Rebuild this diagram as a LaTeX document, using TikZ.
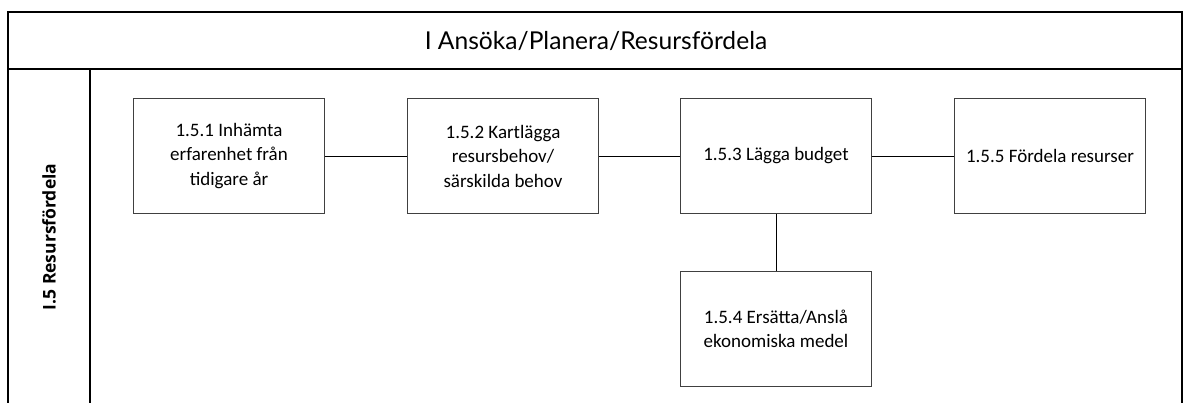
\documentclass[tikz,border=0pt]{standalone}
\usepackage{fontspec}
\setmainfont{Carlito}
\newfontfamily\gillfont{Lato}
\newfontfamily\lanefont{Open Sans}
\begin{document}
\begin{tikzpicture}[x=1pt,y=-1pt,
  procbox/.style={draw=black!75,line width=0.9pt,minimum width=191pt,minimum height=115pt,
    align=center,font=\fontsize{19}{24.5}\selectfont,inner sep=0pt},
  link/.style={draw=black,line width=0.8pt},
  frame/.style={draw=black,line width=1.4pt}]
\useasboundingbox (0,0) rectangle (1188,403);
% frame
\draw[frame] (8,403) -- (8,12) -- (1182,12) -- (1182,403);
\draw[frame] (8,69) -- (1182,69);
\draw[frame] (90,69) -- (90,403);
\node[font=\gillfont\fontsize{24.6}{28}\selectfont] (title) at (596,41) {I Ansöka/Planera/Resursfördela};
\node[font=\lanefont\bfseries\fontsize{17.5}{20}\selectfont,rotate=90] (lane) at (49,237) {I.5 Resursfördela};
% boxes
\node[procbox] (b1) at (229,156) {1.5.1 Inhämta\\erfarenhet från\\tidigare år};
\node[procbox] (b2) at (503,156) {1.5.2 Kartlägga\\resursbehov/\\särskilda behov};
\node[procbox] (b3) at (776,156) {1.5.3 Lägga budget};
\node[procbox] (b5) at (1050,156) {1.5.5 Fördela resurser};
\node[procbox] (b4) at (776,329) {1.5.4 Ersätta/Anslå\\ekonomiska medel};
% connectors
\draw[link] (b1) -- (b2);
\draw[link] (b2) -- (b3);
\draw[link] (b3) -- (b5);
\draw[link] (b3) -- (b4);
\end{tikzpicture}
\end{document}
